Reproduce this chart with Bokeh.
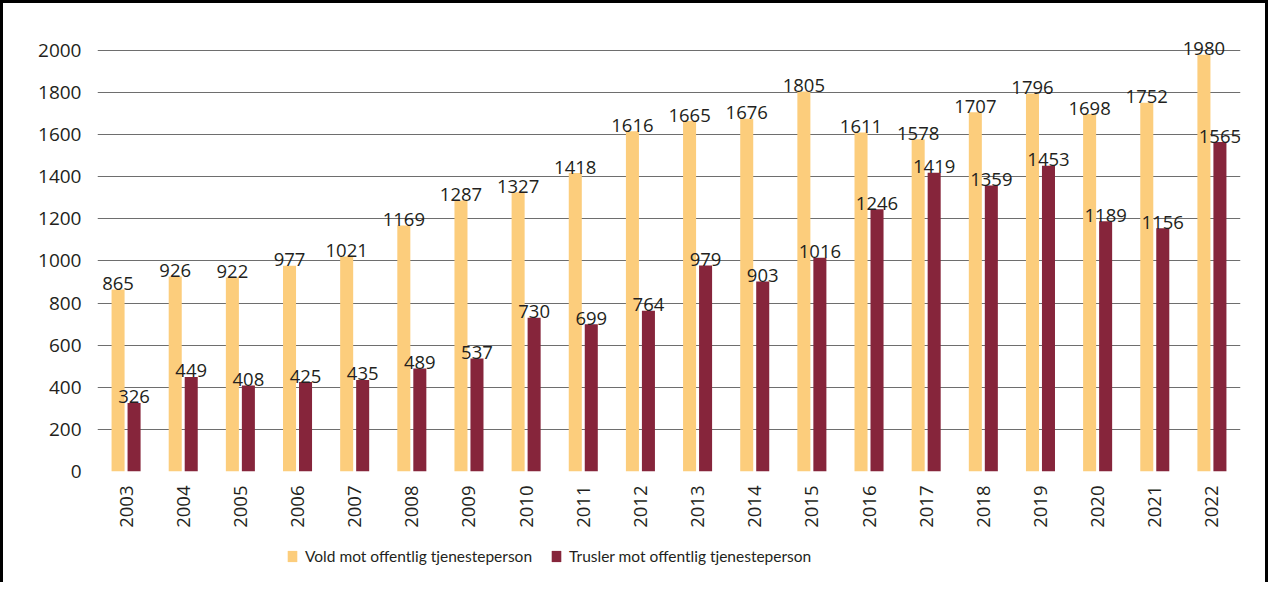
from bokeh.plotting import figure
from bokeh.models import ColumnDataSource, FactorRange, Range1d, Legend, LegendItem, FixedTicker
from bokeh.layouts import column
from bokeh.transform import dodge
from bokeh.core.properties import value
from bokeh.embed import file_html
from bokeh.resources import INLINE
import math

years = [str(y) for y in range(2003, 2023)]
vold = [865, 926, 922, 977, 1021, 1169, 1287, 1327, 1418, 1616, 1665, 1676, 1805, 1611, 1578, 1707, 1796, 1698, 1752, 1980]
trusler = [326, 449, 408, 425, 435, 489, 537, 730, 699, 764, 979, 903, 1016, 1246, 1419, 1359, 1453, 1189, 1156, 1565]
y_ticks = [0, 200, 400, 600, 800, 1000, 1200, 1400, 1600, 1800, 2000]
series_names = ["Vold mot offentlig tjenesteperson", "Trusler mot offentlig tjenesteperson"]

YELLOW = "#FCCD7C"
RED = "#86253B"
TEXT = "#231F20"
FONT = "Open Sans"
LEGEND_FONT = "Lato"

src = ColumnDataSource(data=dict(
    year=years, vold=vold, trusler=trusler,
    vold_lbl=[str(v) for v in vold], trusler_lbl=[str(v) for v in trusler],
))

p = figure(
    x_range=FactorRange(*years, range_padding=0),
    y_range=Range1d(0, 2133),
    width=1262, height=534,
    output_backend="svg", toolbar_location=None,
    min_border_left=94, min_border_right=25, min_border_top=19, min_border_bottom=66,
)
p.outline_line_color = None
p.background_fill_color = "white"
p.border_fill_color = "white"

off = 0.14
bw = 0.228
p.vbar(x=dodge("year", -off, range=p.x_range), top="vold", width=bw, source=src,
       fill_color=YELLOW, line_color=None)
p.vbar(x=dodge("year", off, range=p.x_range), top="trusler", width=bw, source=src,
       fill_color=RED, line_color=None)

p.text(x=dodge("year", -off, range=p.x_range), y="vold", text="vold_lbl", source=src,
       text_align="center", text_baseline="alphabetic", y_offset=-6,
       text_font=value(FONT), text_font_size="18.5px", text_color=TEXT)
p.text(x=dodge("year", off, range=p.x_range), y="trusler", text="trusler_lbl", source=src,
       text_align="center", text_baseline="alphabetic", y_offset=-6,
       text_font=value(FONT), text_font_size="18.5px", text_color=TEXT)

# axes
p.yaxis.ticker = FixedTicker(ticks=y_ticks)
p.yaxis.axis_line_color = None
p.yaxis.major_tick_line_color = None
p.yaxis.minor_tick_line_color = None
p.yaxis.major_label_standoff = 10
p.yaxis.major_label_text_font = FONT
p.yaxis.major_label_text_font_size = "19px"
p.yaxis.major_label_text_color = TEXT

p.xaxis.axis_line_color = None
p.xaxis.major_tick_line_color = None
p.xaxis.minor_tick_line_color = None
p.xaxis.major_label_orientation = math.pi / 2
p.xaxis.major_label_standoff = 8
p.xaxis.major_label_text_font = FONT
p.xaxis.major_label_text_font_size = "18.5px"
p.xaxis.major_label_text_color = TEXT

p.xgrid.grid_line_color = None
p.ygrid.ticker = FixedTicker(ticks=y_ticks)
p.ygrid.grid_line_color = "#6E6E6E"
p.ygrid.grid_line_width = 1

# legend strip (same series, drawn outside its own view, so only the legend shows)
lg = figure(width=1262, height=45, x_range=FactorRange(*years, range_padding=0),
            y_range=Range1d(100000, 100001),
            output_backend="svg", toolbar_location=None,
            x_axis_location=None, y_axis_location=None,
            min_border_left=0, min_border_right=0, min_border_top=0, min_border_bottom=0)
lg.outline_line_color = None
lg.xgrid.grid_line_color = None
lg.ygrid.grid_line_color = None
lr1 = lg.vbar(x="year", top="vold", width=bw, source=src, fill_color=YELLOW, line_color=None)
lr2 = lg.vbar(x="year", top="trusler", width=bw, source=src, fill_color=RED, line_color=None)
legend = Legend(items=[LegendItem(label=series_names[0], renderers=[lr1]),
                       LegendItem(label=series_names[1], renderers=[lr2])],
                orientation="horizontal", location=(189, 17),
                glyph_width=12, glyph_height=14, label_height=14,
                label_standoff=7, spacing=18, padding=0, margin=0,
                border_line_color=None, background_fill_alpha=0,
                label_text_font=LEGEND_FONT, label_text_font_size="15.5px", label_text_color=TEXT)
lg.add_layout(legend, "center")

layout = column(p, lg, spacing=0)
layout.styles = {"border-top": "3px solid black", "border-left": "3px solid black",
                 "border-right": "3px solid black"}

open("out.html", "w").write(file_html(layout, INLINE))
